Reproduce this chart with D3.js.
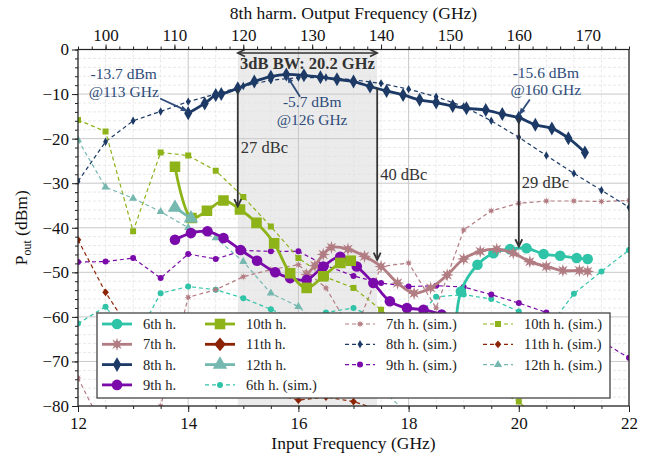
<!DOCTYPE html>
<html lang="en">
<head>
<meta charset="utf-8" />
<title>Harmonic output power</title>
<script src="https://d3js.org/d3.v7.min.js"></script>
<style>
  body { margin: 0; background: #fff; }
  svg, svg text { font-family: "Liberation Serif", "DejaVu Serif", serif !important; }
</style>
</head>
<body>
<div id="chart"></div>
<script>
// ---- data (input frequency in GHz, power in dBm) ----
const simFreq = [12, 12.5, 13, 13.5, 14, 14.5, 15, 15.5, 16, 16.5, 17, 17.5, 18, 18.5, 19, 19.5, 20, 20.5, 21, 21.5, 22];
const sim6 = [-61.5, -57.7, -66, -54.7, -53.2, -53.9, -55.8, -58.3, -61, -59, -58.0, -61, -62, -55.5, -55.0, -56.0, -58.8, -63, -54.8, -49.8, -45.0];
const sim7 = [-73.7, -86, -88, -80, -55.6, -53.9, -51.0, -49.4, -48.3, -53.5, -64, -48.7, -47.9, -58.0, -40.5, -36.2, -34.5, -34.0, -34.0, -34.1, -33.9];
const sim8 = [-29.6, -20.7, -16.0, -13.9, -11.7, -10.0, -8.2, -6.9, -6.3, -6.3, -6.8, -7.6, -8.9, -10.6, -12.8, -16.0, -19.7, -23.8, -27.8, -31.6, -35.4];
const sim9 = [-47.7, -47.6, -46.8, -51.3, -45.9, -47.0, -45.1, -45.3, -45.3, -48.5, -50.8, -52.4, -53.2, -53.0, -53.3, -55.0, -56.9, -59.0, -62, -65.5, -69.2];
const sim10 = [-15.8, -18.4, -40.8, -23.1, -23.8, -27.2, -33.1, -39.7, -46.8, -51.1, -53.5, -58.4, -64, -69, -73, -76, -79, -85];
const sim11 = [-42.7, -54.5, -64, -70, -72, -74, -76, -77, -78.7, -78, -79, -81];
const sim12 = [-20.3, -30.9, -33.4, -36.4, -40.0, -42.3, -47.6, -54.7, -57.7, -63, -70, -76, -82];

const meas6F = [18.85, 18.95, 19.25, 19.54, 19.84, 20.14, 20.45, 20.75, 21.05, 21.25];
const meas6V = [-64, -54.3, -48.3, -45.7, -44.8, -44.6, -45.9, -46.3, -46.8, -47.0];
const meas7F = [16.15, 16.3, 16.45, 16.6, 16.9, 17.2, 17.5, 17.8, 18.1, 18.4, 18.7, 19.0, 19.3, 19.6, 19.9, 20.2, 20.5, 20.8, 21.1, 21.25];
const meas7V = [-50.5, -48.5, -46.0, -44.4, -44.8, -46.4, -48.7, -52.4, -54.7, -53.5, -50.6, -47.0, -45.3, -44.8, -45.7, -47.6, -48.7, -49.6, -49.6, -49.8];
const meas8F = [14.0, 14.3, 14.5, 14.6, 14.9, 15.2, 15.5, 15.78, 16.1, 16.4, 16.7, 17.0, 17.3, 17.6, 17.9, 18.2, 18.5, 18.8, 19.05, 19.4, 19.7, 20.0, 20.3, 20.6, 20.9, 21.2];
const meas8V = [-14.3, -12.1, -10.2, -10.0, -8.7, -7.2, -6.1, -5.6, -5.8, -6.2, -6.7, -7.2, -8.3, -9.3, -10.2, -11.3, -11.9, -12.7, -13.2, -13.6, -14.5, -15.3, -16.9, -17.7, -19.9, -23.1];
const meas9F = [13.76, 14.05, 14.35, 14.64, 14.95, 15.25, 15.58, 15.85, 16.15, 16.45, 16.76, 17.06, 17.36, 17.66, 17.97, 18.27, 18.6, 18.9];
const meas9V = [-42.7, -41.2, -40.8, -42.3, -45.0, -47.4, -50.0, -51.3, -51.7, -48.7, -46.5, -48.7, -52.4, -56.5, -58.0, -58.4, -59.5, -61];
const meas10F = [13.76, 14.06, 14.34, 14.64, 14.94, 15.24, 15.56, 15.85, 16.15, 16.45, 16.76, 16.95];
const meas10V = [-26.3, -37.8, -36.2, -33.9, -35.9, -38.9, -43.5, -50.2, -53.5, -50.9, -47.9, -47.4];
const meas11F = [];
const meas11V = [];
const meas12F = [13.76, 14.05];
const meas12V = [-35.5, -37.9];

const harmLabels = ["6th h.", "7th h.", "8th h.", "9th h.", "10th h.", "11th h.", "12th h."];
const harmColors = ["#2fc4a8", "#b27c83", "#1c3a65", "#7b0aaa", "#8db318", "#8c2304", "#74b8b0"];
const harmSymbols = ["circle", "star", "thin", "circle", "square", "diamond", "triangle"];
const xMajor = [12, 14, 16, 18, 20, 22];
const topMajor = [100, 110, 120, 130, 140, 150, 160, 170];
const yMajor = [-80, -70, -60, -50, -40, -30, -20, -10, 0];

const measF = [meas6F, meas7F, meas8F, meas9F, meas10F, meas11F, meas12F];
const measV = [meas6V, meas7V, meas8V, meas9V, meas10V, meas11V, meas12V];
const simV = [sim6, sim7, sim8, sim9, sim10, sim11, sim12];

// ---- layout ----
const W = 650, H = 460;
const margin = { top: 49.5, right: 21, bottom: 54, left: 78 };
const width = W - margin.left - margin.right,
  height = H - margin.top - margin.bottom;
const serif = '"Liberation Serif", "DejaVu Serif", serif';

const svg = d3.select("#chart").append("svg").attr("width", W).attr("height", H)
  .attr("font-family", serif);
const g = svg.append("g").attr("transform", `translate(${margin.left},${margin.top})`);

const x = d3.scaleLinear().domain([12, 22]).range([0, width]);
const xTop = d3.scaleLinear().domain([96, 176]).range([0, width]);
const y = d3.scaleLinear().domain([-80, 0]).range([height, 0]);

svg.append("defs").append("clipPath").attr("id", "clip")
  .append("rect").attr("width", width).attr("height", height);

// 3 dB band shading
const bwLo = 14.9, bwHi = 17.43;
g.append("rect")
  .attr("x", x(bwLo)).attr("y", 0)
  .attr("width", x(bwHi) - x(bwLo)).attr("height", height)
  .attr("fill", "#ebebeb");

// grid
const grid = g.append("g");
grid.selectAll(".vmin").data(d3.range(12.5, 22, 0.5).filter(v => v % 2 !== 0)).join("line")
  .attr("x1", d => x(d)).attr("x2", d => x(d)).attr("y1", 0).attr("y2", height)
  .attr("stroke", "#e2e2e2").attr("stroke-width", 0.8).attr("stroke-dasharray", "3,2");
grid.selectAll(".hmin").data(d3.range(-78, 0, 2).filter(v => v % 10 !== 0)).join("line")
  .attr("y1", d => y(d)).attr("y2", d => y(d)).attr("x1", 0).attr("x2", width)
  .attr("stroke", "#e2e2e2").attr("stroke-width", 0.8).attr("stroke-dasharray", "3,2");
grid.selectAll(".vmaj").data(xMajor).join("line")
  .attr("x1", d => x(d)).attr("x2", d => x(d)).attr("y1", 0).attr("y2", height)
  .attr("stroke", "#c8c8c8").attr("stroke-width", 1);
grid.selectAll(".hmaj").data(yMajor).join("line")
  .attr("y1", d => y(d)).attr("y2", d => y(d)).attr("x1", 0).attr("x2", width)
  .attr("stroke", "#c8c8c8").attr("stroke-width", 1);

// marker shapes
function markerPath(kind, s) {
  if (kind === "circle") return d3.symbol(d3.symbolCircle, Math.PI * s * s)();
  if (kind === "square") return d3.symbol(d3.symbolSquare, 4 * s * s)();
  if (kind === "triangle") return d3.symbol(d3.symbolTriangle, 3.2 * s * s)();
  if (kind === "thin") return `M0,${-1.4 * s}L${0.8 * s},0L0,${1.4 * s}L${-0.8 * s},0Z`;
  if (kind === "diamond") return `M0,${-1.3 * s}L${1.1 * s},0L0,${1.3 * s}L${-1.1 * s},0Z`;
  // star: 8-point blob
  let p = "";
  for (let i = 0; i < 16; i++) {
    const r = i % 2 === 0 ? 1.25 * s : 0.55 * s;
    const a = (Math.PI / 8) * i - Math.PI / 2;
    p += (i === 0 ? "M" : "L") + (r * Math.cos(a)).toFixed(2) + "," + (r * Math.sin(a)).toFixed(2);
  }
  return p + "Z";
}

const data = g.append("g").attr("clip-path", "url(#clip)");

// simulated (dashed)
simV.forEach((vals, k) => {
  const pts = vals.map((v, i) => [simFreq[i], v]);
  data.append("path").datum(pts)
    .attr("fill", "none").attr("stroke", harmColors[k]).attr("stroke-width", 1.2)
    .attr("stroke-dasharray", "4,3")
    .attr("d", d3.line().x(d => x(d[0])).y(d => y(d[1])));
  data.selectAll(null).data(pts).join("path")
    .attr("transform", d => `translate(${x(d[0])},${y(d[1])})`)
    .attr("d", markerPath(harmSymbols[k], 3))
    .attr("fill", harmColors[k]);
});

// measured (solid)
measV.forEach((vals, k) => {
  const pts = vals.map((v, i) => [measF[k][i], v]);
  if (!pts.length) return;
  data.append("path").datum(pts)
    .attr("fill", "none").attr("stroke", harmColors[k]).attr("stroke-width", 2.8)
    .attr("d", d3.line().curve(d3.curveCatmullRom.alpha(0.5)).x(d => x(d[0])).y(d => y(d[1])));
  data.selectAll(null).data(pts).join("path")
    .attr("transform", d => `translate(${x(d[0])},${y(d[1])})`)
    .attr("d", markerPath(harmSymbols[k], harmSymbols[k] === "thin" ? 5 : 5.3))
    .attr("fill", harmColors[k]);
});

// ---- annotations ----
const ann = g.append("g");
const dark = "#333";
function chevron(x0, y0, ang) {
  const L = 8, a = 0.45;
  return `M${x0 + L * Math.cos(ang + Math.PI - a)},${y0 + L * Math.sin(ang + Math.PI - a)}L${x0},${y0}L${x0 + L * Math.cos(ang + Math.PI + a)},${y0 + L * Math.sin(ang + Math.PI + a)}`;
}
// bandwidth arrow
ann.append("line").attr("x1", x(bwLo)).attr("x2", x(bwHi)).attr("y1", y(-0.8)).attr("y2", y(-0.8))
  .attr("stroke", dark).attr("stroke-width", 1.6);
ann.append("path").attr("d", chevron(x(bwLo), y(-0.8), Math.PI) + chevron(x(bwHi), y(-0.8), 0))
  .attr("fill", "none").attr("stroke", dark).attr("stroke-width", 1.6);
ann.append("text").attr("x", (x(bwLo) + x(bwHi)) / 2).attr("y", y(-4.4))
  .attr("text-anchor", "middle").attr("font-weight", "bold").attr("font-size", "16.5px")
  .attr("fill", dark).text("3dB BW: 20.2 GHz");

// dBc arrows
const dbc = [
  { f: 14.9, top: -8.9, bot: -35.2, label: "27 dBc", ly: -23.2 },
  { f: 17.43, top: -8.6, bot: -47.2, label: "40 dBc", ly: -29.3 },
  { f: 20.0, top: -15.4, bot: -44.2, label: "29 dBc", ly: -31.1 }
];
dbc.forEach(d => {
  ann.append("line").attr("x1", x(d.f)).attr("x2", x(d.f)).attr("y1", y(d.top)).attr("y2", y(d.bot))
    .attr("stroke", dark).attr("stroke-width", 1.8);
  ann.append("path").attr("d", chevron(x(d.f), y(d.bot), Math.PI / 2))
    .attr("fill", "none").attr("stroke", dark).attr("stroke-width", 1.8);
  ann.append("text").attr("x", x(d.f) + 3).attr("y", y(d.ly))
    .attr("font-size", "16.5px").attr("fill", dark).text(d.label);
});

// peak callouts
const navy = "#2e4b7a";
const callouts = [
  { t1: "-13.7 dBm", t2: "@113 GHz", cx: 12.83, y1: -6.7, y2: -10.7, from: [13.49, -11.0], to: [14.0, -13.9] },
  { t1: "-5.7 dBm", t2: "@126 GHz", cx: 16.25, y1: -13.0, y2: -17.0, from: [16.03, -10.6], to: [15.79, -5.9] },
  { t1: "-15.6 dBm", t2: "@160 GHz", cx: 20.49, y1: -6.3, y2: -10.3, from: [20.2, -11.2], to: [20.0, -14.8] }
];
callouts.forEach(c => {
  ann.append("text").attr("x", x(c.cx)).attr("y", y(c.y1)).attr("text-anchor", "middle")
    .attr("font-size", "15.5px").attr("fill", navy).text(c.t1);
  ann.append("text").attr("x", x(c.cx)).attr("y", y(c.y2)).attr("text-anchor", "middle")
    .attr("font-size", "15.5px").attr("fill", navy).text(c.t2);
  const x0 = x(c.from[0]), y0 = y(c.from[1]), x1 = x(c.to[0]), y1 = y(c.to[1]);
  const ang = Math.atan2(y1 - y0, x1 - x0);
  ann.append("line").attr("x1", x0).attr("y1", y0)
    .attr("x2", x1 - 5 * Math.cos(ang)).attr("y2", y1 - 5 * Math.sin(ang))
    .attr("stroke", navy).attr("stroke-width", 1.8);
  const L = 8, a = 0.35;
  ann.append("path")
    .attr("d", `M${x1},${y1}L${x1 - L * Math.cos(ang - a)},${y1 - L * Math.sin(ang - a)}L${x1 - L * Math.cos(ang + a)},${y1 - L * Math.sin(ang + a)}Z`)
    .attr("fill", navy);
});

// ---- legend ----
const leg = svg.append("g");
leg.append("rect").attr("x", 97).attr("y", 313).attr("width", 513).attr("height", 85)
  .attr("fill", "#fff").attr("stroke", "#444").attr("stroke-width", 1.3);
const entries = harmLabels.map((l, k) => ({ label: l, k, sim: false }))
  .concat(harmLabels.map((l, k) => ({ label: l + " (sim.)", k, sim: true })));
const colSizes = [4, 4, 3, 3];
const colX = [102, 205, 345, 483];
let idx = 0;
colSizes.forEach((n, c) => {
  for (let r = 0; r < n; r++, idx++) {
    const e = entries[idx];
    const yy = 324 + r * 20.3;
    const hx = colX[c];
    leg.append("line").attr("x1", hx).attr("x2", hx + 30).attr("y1", yy).attr("y2", yy)
      .attr("stroke", harmColors[e.k]).attr("stroke-width", e.sim ? 1.2 : 2.8)
      .attr("stroke-dasharray", e.sim ? "4,3" : null);
    leg.append("path").attr("transform", `translate(${hx + 15},${yy})`)
      .attr("d", markerPath(harmSymbols[e.k], e.sim ? 3 : 5.3))
      .attr("fill", harmColors[e.k]);
    leg.append("text").attr("x", hx + 41).attr("y", yy + 5)
      .attr("font-size", "14.5px").attr("fill", "#222").text(e.label);
  }
});

// ---- axes ----
const axisG = g.append("g");
function styleAxis(sel) {
  sel.attr("font-family", serif);
  sel.selectAll(".domain").remove();
  sel.selectAll("line").attr("stroke", "#222").attr("stroke-width", 1);
  sel.selectAll("text").attr("font-size", "17px").attr("fill", "#111");
}
axisG.append("g").attr("transform", `translate(0,${height})`)
  .call(d3.axisBottom(x).tickValues(d3.range(12, 22.01, 0.5)).tickSize(3).tickFormat(""))
  .call(styleAxis);
axisG.append("g").attr("transform", `translate(0,${height})`)
  .call(d3.axisBottom(x).tickValues(xMajor).tickSize(6).tickPadding(5).tickFormat(d3.format("d")))
  .call(styleAxis);
axisG.append("g")
  .call(d3.axisTop(xTop).tickValues(d3.range(96, 176.1, 2)).tickSize(3).tickFormat(""))
  .call(styleAxis);
axisG.append("g")
  .call(d3.axisTop(xTop).tickValues(topMajor).tickSize(5).tickPadding(4).tickFormat(d3.format("d")))
  .call(styleAxis);
axisG.append("g")
  .call(d3.axisLeft(y).tickValues(d3.range(-80, 0.1, 2)).tickSize(3).tickFormat(""))
  .call(styleAxis);
axisG.append("g")
  .call(d3.axisLeft(y).tickValues(yMajor).tickSize(6).tickPadding(3))
  .call(styleAxis);
axisG.append("rect").attr("width", width).attr("height", height)
  .attr("fill", "none").attr("stroke", "#222").attr("stroke-width", 1.2);

// axis titles
svg.append("text").attr("x", margin.left + width / 2).attr("y", 449)
  .attr("text-anchor", "middle").attr("font-size", "17.5px").attr("fill", "#111")
  .text("Input Frequency (GHz)");
svg.append("text").attr("x", margin.left + width / 2).attr("y", 19)
  .attr("text-anchor", "middle").attr("font-size", "17.5px").attr("fill", "#111")
  .text("8th harm. Output Frequency (GHz)");
const yl = svg.append("text")
  .attr("transform", `translate(27,${margin.top + height / 2}) rotate(-90)`)
  .attr("text-anchor", "middle").attr("font-size", "17.5px").attr("fill", "#111");
yl.append("tspan").text("P");
yl.append("tspan").attr("font-size", "12px").attr("dy", 4).text("out");
yl.append("tspan").attr("dy", -4).text(" (dBm)");
</script>
</body>
</html>
